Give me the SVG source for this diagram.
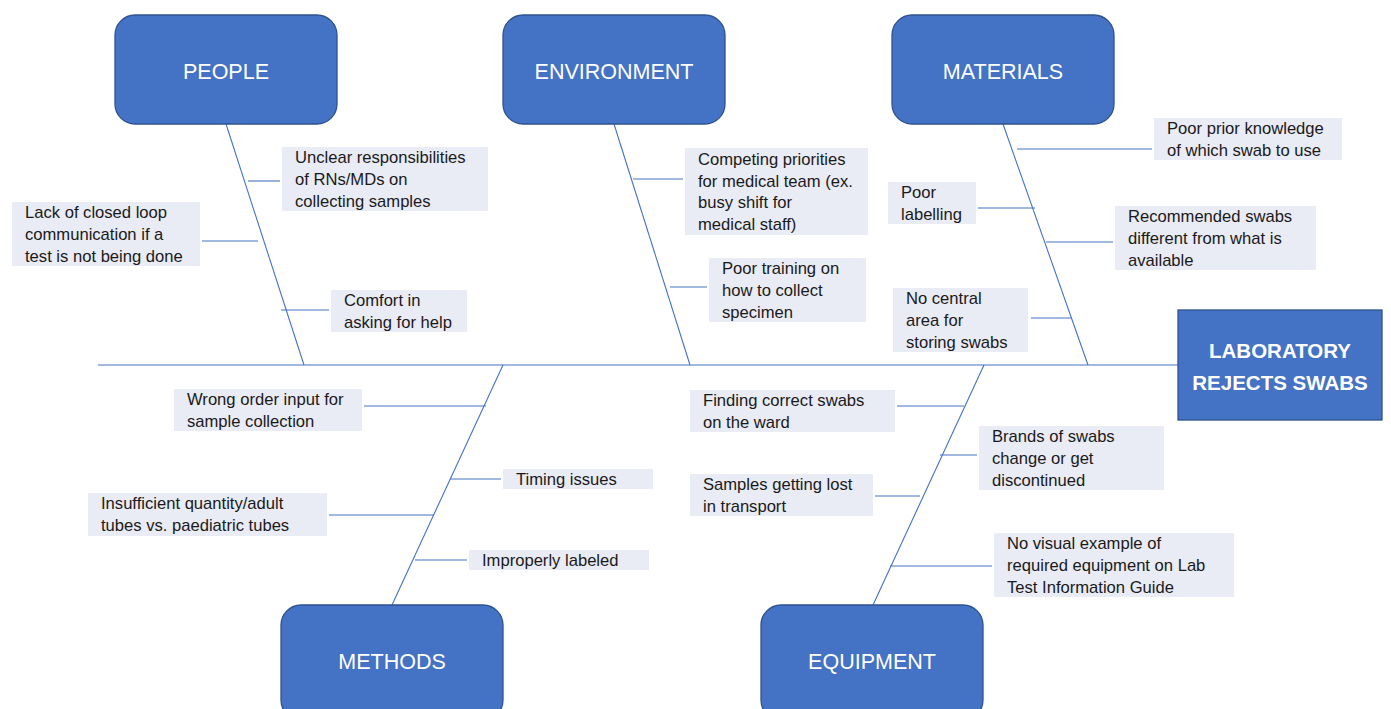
<svg xmlns="http://www.w3.org/2000/svg" width="1391" height="709" viewBox="0 0 1391 709">
<style>
.cat{fill:#4472C4;stroke:#2F528F;stroke-width:1.3}
.cat-t{font-family:"Liberation Sans",Arial,sans-serif;font-size:21.5px;fill:#fff;text-anchor:middle}
.eff-t{font-family:"Liberation Sans",Arial,sans-serif;font-size:20.5px;font-weight:bold;fill:#fff;text-anchor:middle}
.lbl{fill:#E9EBF5}
.lt{font-family:"Liberation Sans",Arial,sans-serif;font-size:16.6px;fill:#1a1a1a}
.ln{stroke:#4472C4;stroke-width:1.1;fill:none}
</style>
<rect width="1391" height="709" fill="#fff"/>
<g id="connectors">
<line class="ln" x1="98" y1="365" x2="1178" y2="365"/>
<line class="ln" x1="226" y1="124" x2="304" y2="365"/>
<line class="ln" x1="614" y1="124" x2="690" y2="365"/>
<line class="ln" x1="1003" y1="124" x2="1088" y2="365"/>
<line class="ln" x1="503" y1="365" x2="392" y2="605"/>
<line class="ln" x1="984" y1="365" x2="873" y2="605"/>
<line class="ln" x1="248" y1="181" x2="280" y2="181"/>
<line class="ln" x1="202" y1="241" x2="258" y2="241"/>
<line class="ln" x1="281" y1="310" x2="329" y2="310"/>
<line class="ln" x1="633" y1="179" x2="683" y2="179"/>
<line class="ln" x1="670" y1="287" x2="707" y2="287"/>
<line class="ln" x1="1017" y1="149" x2="1152" y2="149"/>
<line class="ln" x1="978" y1="208" x2="1035" y2="208"/>
<line class="ln" x1="1046" y1="242" x2="1113" y2="242"/>
<line class="ln" x1="1031" y1="318" x2="1071" y2="318"/>
<line class="ln" x1="364" y1="406" x2="486" y2="406"/>
<line class="ln" x1="450" y1="479" x2="501" y2="479"/>
<line class="ln" x1="329" y1="515" x2="434" y2="515"/>
<line class="ln" x1="415" y1="560" x2="467" y2="560"/>
<line class="ln" x1="897" y1="406" x2="964" y2="406"/>
<line class="ln" x1="940" y1="455" x2="977" y2="455"/>
<line class="ln" x1="875" y1="496" x2="920" y2="496"/>
<line class="ln" x1="890" y1="566" x2="992" y2="566"/>
</g>
<g id="effect">
<rect class="cat" x="1178" y="310" width="204" height="110"/>
<text class="eff-t" x="1280" y="358">LABORATORY</text>
<text class="eff-t" x="1280" y="390">REJECTS SWABS</text>
</g>
<g id="people">
<rect class="cat" x="115" y="15" width="222" height="109" rx="20"/>
<text class="cat-t" x="226" y="79">PEOPLE</text>
</g>
<g id="environment">
<rect class="cat" x="503" y="15" width="222" height="109" rx="20"/>
<text class="cat-t" x="614" y="79">ENVIRONMENT</text>
</g>
<g id="materials">
<rect class="cat" x="892" y="15" width="222" height="109" rx="20"/>
<text class="cat-t" x="1003" y="79">MATERIALS</text>
</g>
<g id="methods">
<rect class="cat" x="281" y="605" width="222" height="115" rx="20"/>
<text class="cat-t" x="392" y="669">METHODS</text>
</g>
<g id="equipment">
<rect class="cat" x="761" y="605" width="222" height="115" rx="20"/>
<text class="cat-t" x="872" y="669">EQUIPMENT</text>
</g>
<g id="c-unclear">
<rect class="lbl" x="282" y="147" width="206" height="64"/>
<text class="lt" x="295" y="163"><tspan x="295">Unclear responsibilities</tspan><tspan x="295" dy="22">of RNs/MDs on</tspan><tspan x="295" dy="22">collecting samples</tspan></text>
</g>
<g id="c-loop">
<rect class="lbl" x="12" y="202" width="188" height="64"/>
<text class="lt" x="25" y="218"><tspan x="25">Lack of closed loop</tspan><tspan x="25" dy="22">communication if a</tspan><tspan x="25" dy="22">test is not being done</tspan></text>
</g>
<g id="c-comfort">
<rect class="lbl" x="331" y="290" width="136" height="42"/>
<text class="lt" x="344" y="306"><tspan x="344">Comfort in</tspan><tspan x="344" dy="22">asking for help</tspan></text>
</g>
<g id="c-competing">
<rect class="lbl" x="685" y="148" width="183" height="87"/>
<text class="lt" x="698" y="165"><tspan x="698">Competing priorities</tspan><tspan x="698" dy="21.7">for medical team (ex.</tspan><tspan x="698" dy="21.7">busy shift for</tspan><tspan x="698" dy="21.7">medical staff)</tspan></text>
</g>
<g id="c-training">
<rect class="lbl" x="709" y="258" width="157" height="64"/>
<text class="lt" x="722" y="274"><tspan x="722">Poor training on</tspan><tspan x="722" dy="22">how to collect</tspan><tspan x="722" dy="22">specimen</tspan></text>
</g>
<g id="c-prior">
<rect class="lbl" x="1154" y="118" width="188" height="42"/>
<text class="lt" x="1167" y="134"><tspan x="1167">Poor prior knowledge</tspan><tspan x="1167" dy="22">of which swab to use</tspan></text>
</g>
<g id="c-labelling">
<rect class="lbl" x="888" y="182" width="88" height="42"/>
<text class="lt" x="901" y="198"><tspan x="901">Poor</tspan><tspan x="901" dy="22">labelling</tspan></text>
</g>
<g id="c-recommended">
<rect class="lbl" x="1115" y="206" width="201" height="64"/>
<text class="lt" x="1128" y="222"><tspan x="1128">Recommended swabs</tspan><tspan x="1128" dy="22">different from what is</tspan><tspan x="1128" dy="22">available</tspan></text>
</g>
<g id="c-central">
<rect class="lbl" x="893" y="288" width="135" height="64"/>
<text class="lt" x="906" y="304"><tspan x="906">No central</tspan><tspan x="906" dy="22">area for</tspan><tspan x="906" dy="22">storing swabs</tspan></text>
</g>
<g id="c-wrong">
<rect class="lbl" x="174" y="389" width="188" height="42"/>
<text class="lt" x="187" y="405"><tspan x="187">Wrong order input for</tspan><tspan x="187" dy="22">sample collection</tspan></text>
</g>
<g id="c-timing">
<rect class="lbl" x="503" y="469" width="150" height="20"/>
<text class="lt" x="516" y="485">Timing issues</text>
</g>
<g id="c-insufficient">
<rect class="lbl" x="88" y="493" width="239" height="43"/>
<text class="lt" x="101" y="509"><tspan x="101">Insufficient quantity/adult</tspan><tspan x="101" dy="22">tubes vs. paediatric tubes</tspan></text>
</g>
<g id="c-improperly">
<rect class="lbl" x="469" y="550" width="180" height="20"/>
<text class="lt" x="482" y="566">Improperly labeled</text>
</g>
<g id="c-finding">
<rect class="lbl" x="690" y="390" width="205" height="42"/>
<text class="lt" x="703" y="406"><tspan x="703">Finding correct swabs</tspan><tspan x="703" dy="22">on the ward</tspan></text>
</g>
<g id="c-brands">
<rect class="lbl" x="979" y="426" width="185" height="64"/>
<text class="lt" x="992" y="442"><tspan x="992">Brands of swabs</tspan><tspan x="992" dy="22">change or get</tspan><tspan x="992" dy="22">discontinued</tspan></text>
</g>
<g id="c-lost">
<rect class="lbl" x="690" y="474" width="183" height="42"/>
<text class="lt" x="703" y="490"><tspan x="703">Samples getting lost</tspan><tspan x="703" dy="22">in transport</tspan></text>
</g>
<g id="c-visual">
<rect class="lbl" x="994" y="533" width="240" height="64"/>
<text class="lt" x="1007" y="549"><tspan x="1007">No visual example of</tspan><tspan x="1007" dy="22">required equipment on Lab</tspan><tspan x="1007" dy="22">Test Information Guide</tspan></text>
</g>
</svg>
